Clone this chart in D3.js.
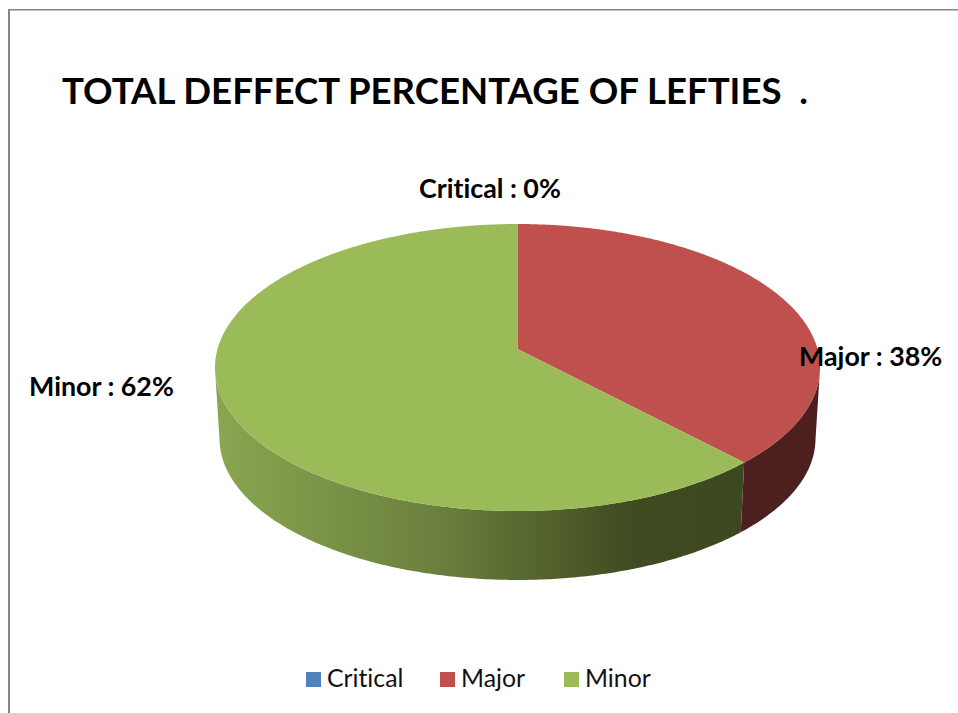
<!DOCTYPE html>
<html lang="en">
<head>
<meta charset="UTF-8">
<title>Total Deffect Percentage of Lefties</title>
<script src="https://d3js.org/d3.v7.min.js"></script>
<style>
    body { margin: 0; padding: 0; background: #fff; overflow: hidden; }
    svg { display: block; }
    text { font-family: Lato, "Open Sans", sans-serif; fill: #000; font-variant-ligatures: none; }
    .title { font-size: 36.6px; font-weight: 700; }
    .label { font-size: 26.8px; font-weight: 700; }
    .legend-text { font-size: 24.8px; fill: #111; }
</style>
</head>
<body>
<svg id="chart" width="958" height="713"></svg>
<script>
// Data
const categories = ["Critical", "Major", "Minor"];
const values = [0, 38, 62];
const topColors = ["#4f81bd", "#c0504d", "#9bbb59"];
const sideColors = ["#2a4565", "#4d1f1f", "url(#minorSide)"];
const titleText = "TOTAL DEFFECT PERCENTAGE OF LEFTIES  .";

// Layout
const width = 958, height = 713;
const cx = 517.5, apexY = 349;
const rx = 300, ry = 141.1, persp = 0.129;   // tilted disc seen in perspective
const depth = 71.4, bottomScale = 0.985;
const labelPos = { Critical: [419, 198], Major: [799, 366], Minor: [29, 396] };
const legendX = { Critical: 306, Major: 440, Minor: 564 };

const svg = d3.select("#chart");

// Frame (only top and left of the chart border are in the picture)
svg.append("rect").attr("x", 8).attr("y", 9).attr("width", width - 8).attr("height", 1.5).attr("fill", "#868686");
svg.append("rect").attr("x", 8).attr("y", 9).attr("width", 2).attr("height", height - 9).attr("fill", "#868686");

// Gradient on the side wall of the big slice
const grad = svg.append("defs").append("linearGradient")
    .attr("id", "minorSide")
    .attr("gradientUnits", "userSpaceOnUse")
    .attr("x1", 217).attr("x2", 740).attr("y1", 0).attr("y2", 0);
grad.append("stop").attr("offset", "0%").attr("stop-color", "#8aa650");
grad.append("stop").attr("offset", "43%").attr("stop-color", "#6a7f3d");
grad.append("stop").attr("offset", "79%").attr("stop-color", "#404b20");
grad.append("stop").attr("offset", "100%").attr("stop-color", "#3d4820");

// Projection of a point on the unit disc at angle a (clockwise from top)
function project(a, r, level) {
    const u = r * Math.sin(a), v = -r * Math.cos(a);
    const w = 1 - persp * v;
    const s = level ? bottomScale : 1;
    return [cx + s * rx * u / w, apexY + (level ? depth : 0) + s * ry * v / w];
}

const pie = d3.pie().sort(null).value(d => d.value);
const slices = pie(categories.map((c, i) => ({ name: c, value: values[i], i: i })));
const line = d3.line();

function arcAngles(d) {
    const n = Math.max(2, Math.ceil((d.endAngle - d.startAngle) / 0.01));
    return d3.range(n + 1).map(k => d.startAngle + (d.endAngle - d.startAngle) * k / n);
}

// Side walls: only the front part of the rim, from silhouette to silhouette
svg.append("g").selectAll("path")
    .data(slices.filter(d => d.value > 0))
    .enter().append("path")
    .attr("fill", d => sideColors[d.data.i])
    .attr("d", d => {
        const angles = arcAngles(d).filter(a => -Math.cos(a) >= persp);
        const upper = angles.map(a => project(a, 1, false));
        const lower = angles.slice().reverse().map(a => project(a, 1, true));
        return line(upper.concat(lower)) + "Z";
    });

// Top faces
svg.append("g").selectAll("path")
    .data(slices.filter(d => d.value > 0))
    .enter().append("path")
    .attr("fill", d => topColors[d.data.i])
    .attr("d", d => {
        const pts = arcAngles(d).map(a => project(a, 1, false));
        return line([[cx, apexY]].concat(pts)) + "Z";
    });

// Title
svg.append("text").attr("class", "title")
    .attr("x", 62).attr("y", 104)
    .attr("xml:space", "preserve")
    .style("white-space", "pre")
    .text(titleText);

// Data labels
svg.append("g").selectAll("text")
    .data(slices)
    .enter().append("text")
    .attr("class", "label")
    .attr("x", d => labelPos[d.data.name][0])
    .attr("y", d => labelPos[d.data.name][1])
    .text(d => `${d.data.name} : ${d.value}%`);

// Legend
const legend = svg.append("g").selectAll("g")
    .data(categories)
    .enter().append("g")
    .attr("transform", d => `translate(${legendX[d]},672)`);
legend.append("rect")
    .attr("width", 15).attr("height", 15)
    .attr("fill", (d, i) => topColors[i]);
legend.append("text")
    .attr("class", "legend-text")
    .attr("x", 21).attr("y", 15)
    .text(d => d);
</script>
</body>
</html>
